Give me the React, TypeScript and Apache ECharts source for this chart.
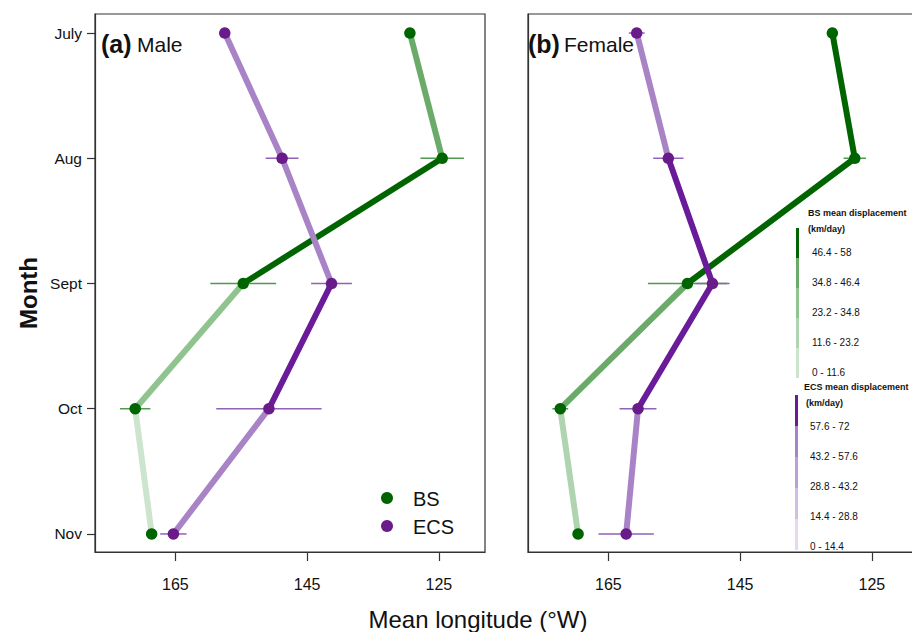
import React, { useEffect, useRef } from "react";
import * as echarts from "echarts";

const months = ["July", "Aug", "Sept", "Oct", "Nov"];
const monthPos = [1, 2, 3, 4, 5];
const lonTicks = [165, 145, 125];

// Male (a)
const maleBS = [129.4, 124.5, 154.7, 171.1, 168.6];
const maleBSErr = [0.5, 3.3, 5.0, 2.3, 0];
const maleBSClass = [3, 4, 2, 0];
const maleECS = [157.5, 148.8, 141.3, 150.8, 165.3];
const maleECSErr = [0, 2.5, 3.1, 8.0, 2.0];
const maleECSClass = [3, 3, 4, 3];

// Female (b)
const femaleBS = [131.0, 127.6, 153.0, 172.3, 169.6];
const femaleBSErr = [0.6, 1.7, 6.0, 1.2, 0];
const femaleBSClass = [4, 4, 3, 1];
const femaleECS = [160.7, 155.9, 149.2, 160.5, 162.3];
const femaleECSErr = [1.2, 2.3, 2.6, 2.8, 4.2];
const femaleECSClass = [3, 4, 4, 3];

const bsPalette = ["#cde4cd", "#b0d4b0", "#8fc48f", "#6aab6a", "#006400"];
const ecsPalette = ["#e6d9ef", "#d2bde3", "#bd9fd6", "#a884c6", "#6a1b9a"];
const bsLegend = ["46.4 - 58", "34.8 - 46.4", "23.2 - 34.8", "11.6 - 23.2", "0 - 11.6"];
const ecsLegend = ["57.6 - 72", "43.2 - 57.6", "28.8 - 43.2", "14.4 - 28.8", "0 - 14.4"];

const FONT = "Liberation Sans, Arial, sans-serif";

function segSeries(lon: number[], cls: number[], palette: string[], gi: number) {
  const out: any[] = [];
  for (let i = 0; i < lon.length - 1; i++) {
    out.push({
      type: "line",
      xAxisIndex: gi,
      yAxisIndex: gi,
      data: [
        [lon[i], monthPos[i]],
        [lon[i + 1], monthPos[i + 1]],
      ],
      showSymbol: false,
      symbol: "none",
      lineStyle: { color: palette[cls[i]], width: 6, cap: "round" },
      z: 2,
      silent: true,
    });
  }
  return out;
}

function errSeries(lon: number[], err: number[], color: string, gi: number) {
  return {
    type: "custom",
    xAxisIndex: gi,
    yAxisIndex: gi,
    data: lon.map((v, i) => [v - err[i], v + err[i], monthPos[i]]),
    encode: { x: [0, 1], y: 2 },
    renderItem: (params: any, api: any) => {
      const a = api.coord([api.value(0), api.value(2)]);
      const b = api.coord([api.value(1), api.value(2)]);
      return {
        type: "line",
        shape: { x1: a[0], y1: a[1], x2: b[0], y2: b[1] },
        style: { stroke: color, lineWidth: 1.5 },
      };
    },
    z: 3,
    silent: true,
  };
}

function ptSeries(lon: number[], color: string, gi: number) {
  return {
    type: "scatter",
    xAxisIndex: gi,
    yAxisIndex: gi,
    data: lon.map((v, i) => [v, monthPos[i]]),
    symbol: "circle",
    symbolSize: 11.5,
    itemStyle: { color, opacity: 1 },
    z: 4,
    silent: true,
  };
}

export default function App() {
  const ref = useRef<HTMLDivElement>(null);
  useEffect(() => {
    if (!ref.current) return;
    const chart = echarts.init(ref.current, null, { renderer: "svg" });
    const xAxisBase = (gi: number) => ({
      type: "value",
      gridIndex: gi,
      min: 118,
      max: 177.2,
      inverse: true,
      splitLine: { show: false },
      axisLine: { show: true, lineStyle: { color: "#333", width: 1.2 } },
      axisTick: {
        show: true,
        length: 9,
        customValues: lonTicks,
        lineStyle: { color: "#333", width: 1.2 },
      },
      axisLabel: {
        customValues: lonTicks,
        fontSize: 16,
        color: "#111",
        fontFamily: FONT,
        margin: 24,
      },
    });
    const yAxisBase = (gi: number, showLabels: boolean) => ({
      type: "value",
      gridIndex: gi,
      min: 0.848,
      max: 5.144,
      inverse: true,
      splitLine: { show: false },
      axisLine: { show: true, lineStyle: { color: "#333", width: 1.2 } },
      axisTick: {
        show: showLabels,
        length: 8,
        customValues: monthPos,
        lineStyle: { color: "#333", width: 1.2 },
      },
      axisLabel: {
        show: showLabels,
        customValues: monthPos,
        formatter: (v: number) => months[Math.round(v) - 1] || "",
        fontSize: 15.5,
        color: "#111",
        fontFamily: FONT,
        margin: 13,
      },
    });

    const legendGraphics: any[] = [];
    legendGraphics.push({
      type: "text",
      left: 808,
      top: 208,
      style: { text: "BS mean displacement", font: `bold 9px ${FONT}`, fill: "#111" },
    });
    legendGraphics.push({
      type: "text",
      left: 808,
      top: 224,
      style: { text: "(km/day)", font: `bold 9px ${FONT}`, fill: "#111" },
    });
    bsLegend.forEach((t, i) => {
      const idx = 4 - i;
      legendGraphics.push({
        type: "rect",
        shape: { x: 796, y: 228 + i * 30, width: 3, height: 30 },
        style: { fill: bsPalette[idx] },
      });
      legendGraphics.push({
        type: "text",
        left: 812,
        top: 247 + i * 30,
        style: { text: t, font: `10px ${FONT}`, fill: "#111" },
      });
    });
    legendGraphics.push({
      type: "text",
      left: 804,
      top: 382,
      style: { text: "ECS mean displacement", font: `bold 9px ${FONT}`, fill: "#111" },
    });
    legendGraphics.push({
      type: "text",
      left: 806,
      top: 398,
      style: { text: "(km/day)", font: `bold 9px ${FONT}`, fill: "#111" },
    });
    ecsLegend.forEach((t, i) => {
      const idx = 4 - i;
      legendGraphics.push({
        type: "rect",
        shape: { x: 795, y: 395 + i * 31, width: 3, height: 31 },
        style: { fill: ecsPalette[idx] },
      });
      legendGraphics.push({
        type: "text",
        left: 810,
        top: 421 + i * 30,
        style: { text: t, font: `10px ${FONT}`, fill: "#111" },
      });
    });

    const option: any = {
      animation: false,
      backgroundColor: "#fff",
      grid: [
        { left: 95, top: 14, width: 390, height: 538, show: true, borderColor: "#333", borderWidth: 1.2, backgroundColor: "transparent", outerBoundsMode: "none", containLabel: false },
        { left: 528, top: 14, width: 390, height: 538, show: true, borderColor: "#333", borderWidth: 1.2, backgroundColor: "transparent", outerBoundsMode: "none", containLabel: false },
      ],
      xAxis: [xAxisBase(0), xAxisBase(1)],
      yAxis: [yAxisBase(0, true), yAxisBase(1, false)],
      series: [
        ...segSeries(maleBS, maleBSClass, bsPalette, 0),
        ...segSeries(maleECS, maleECSClass, ecsPalette, 0),
        ...segSeries(femaleBS, femaleBSClass, bsPalette, 1),
        ...segSeries(femaleECS, femaleECSClass, ecsPalette, 1),
        errSeries(maleBS, maleBSErr, "#4f9a4f", 0),
        errSeries(maleECS, maleECSErr, "#9161b8", 0),
        errSeries(femaleBS, femaleBSErr, "#4f9a4f", 1),
        errSeries(femaleECS, femaleECSErr, "#9161b8", 1),
        ptSeries(maleBS, "#006400", 0),
        ptSeries(maleECS, "#6a1b8a", 0),
        ptSeries(femaleBS, "#006400", 1),
        ptSeries(femaleECS, "#6a1b8a", 1),
      ],
      graphic: [
        {
          type: "text",
          left: 101,
          top: 31,
          style: { text: "(a)", font: `bold 25px ${FONT}`, fill: "#111" },
        },
        {
          type: "text",
          left: 137,
          top: 34,
          style: { text: "Male", font: `21px ${FONT}`, fill: "#111" },
        },
        {
          type: "text",
          left: 528,
          top: 31,
          style: { text: "(b)", font: `bold 25px ${FONT}`, fill: "#111" },
        },
        {
          type: "text",
          left: 564,
          top: 34,
          style: { text: "Female", font: `21px ${FONT}`, fill: "#111" },
        },
        {
          type: "text",
          x: 28,
          y: 293,
          rotation: Math.PI / 2,
          style: {
            text: "Month",
            font: `bold 24px ${FONT}`,
            fill: "#111",
            align: "center",
            verticalAlign: "middle",
          },
        },
        {
          type: "text",
          x: 478,
          y: 619,
          style: {
            text: "Mean longitude (°W)",
            font: `24px ${FONT}`,
            fill: "#111",
            align: "center",
            verticalAlign: "middle",
          },
        },
        { type: "circle", shape: { cx: 387, cy: 498, r: 6 }, style: { fill: "#006400" } },
        { type: "circle", shape: { cx: 387, cy: 526, r: 6 }, style: { fill: "#6a1b8a" } },
        {
          type: "text",
          x: 413,
          y: 499,
          style: { text: "BS", font: `20px ${FONT}`, fill: "#111", verticalAlign: "middle" },
        },
        {
          type: "text",
          x: 413,
          y: 527,
          style: { text: "ECS", font: `20px ${FONT}`, fill: "#111", verticalAlign: "middle" },
        },
        ...legendGraphics,
      ],
    };
    chart.setOption(option);
    return () => chart.dispose();
  }, []);
  return <div ref={ref} style={{ width: 912, height: 632, position: "absolute", left: 0, top: 0 }} />;
}
